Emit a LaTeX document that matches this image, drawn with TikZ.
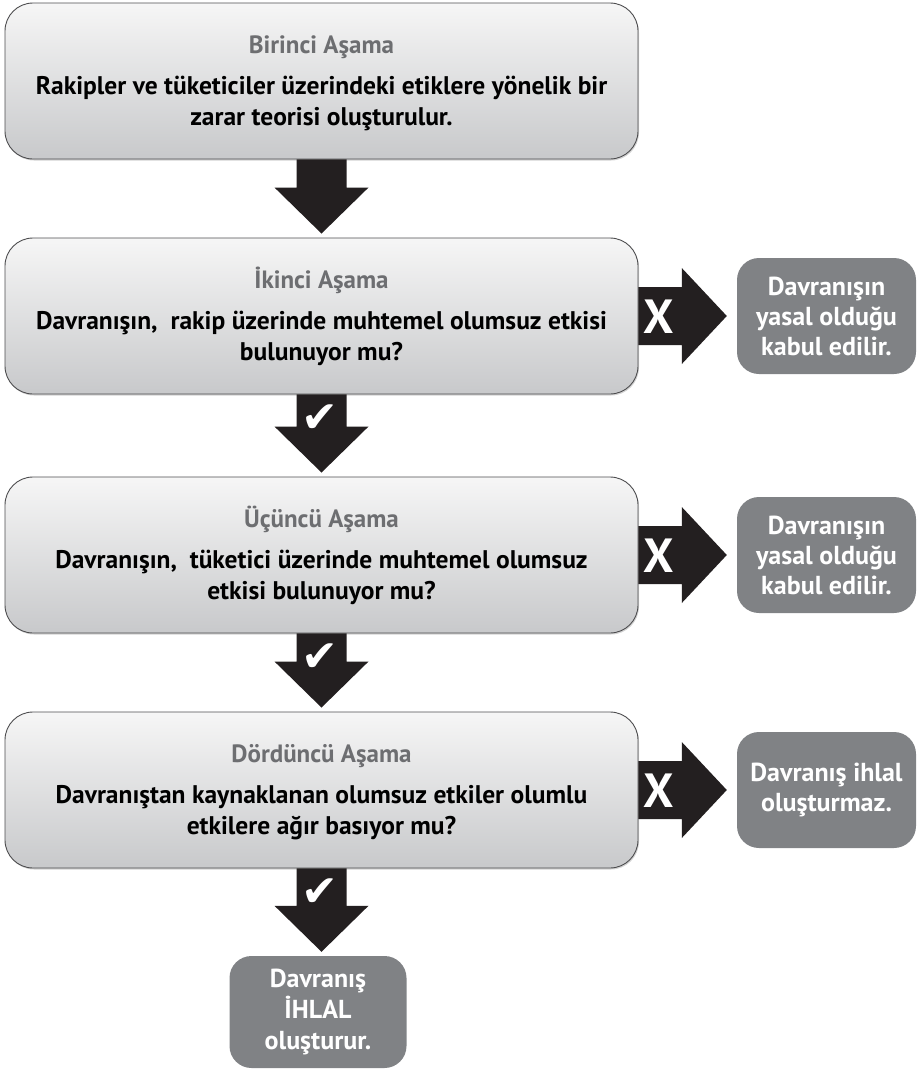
\documentclass[tikz,border=0pt]{standalone}
\usepackage{fontspec}
\setmainfont{PT Sans}
\newfontfamily\symfont{DejaVu Sans}
\usetikzlibrary{calc,shadows}
\definecolor{arrowblk}{HTML}{231F20}
\definecolor{sidegray}{HTML}{808285}
\definecolor{titlegray}{HTML}{6D6E71}
\definecolor{boxline}{HTML}{4D4D4F}
\definecolor{boxtop}{HTML}{F6F6F6}
\definecolor{boxbot}{HTML}{C8C9CB}
\tikzset{
  stagebox/.style={draw=boxline, line width=0.9pt, rounded corners=28pt, minimum width=633pt, minimum height=156pt, inner sep=0pt, top color=boxtop, bottom color=boxbot, drop shadow={opacity=0.35, shadow xshift=1pt, shadow yshift=-1.5pt}},
  sidebox/.style={fill=sidegray, rounded corners=22pt, minimum width=179pt, minimum height=116pt, inner sep=0pt, text=white, font=\fontsize{26}{30}\selectfont\bfseries, align=center},
  titletext/.style={text=titlegray, font=\fontsize{25}{28}\selectfont\bfseries, anchor=base, inner sep=0pt},
  bodytext/.style={text=black, font=\fontsize{25.5}{31.5}\selectfont\bfseries, align=center, inner sep=0pt},
  arrowfill/.style={fill=arrowblk},
  xmark/.style={text=white, font=\fontsize{48}{48}\selectfont\bfseries, inner sep=0pt},
  checkmark/.style={text=white, font=\symfont\fontsize{44}{44}\selectfont, inner sep=0pt}
}
\newcommand\downarr[2]{%
  \path let \p1=(#1.south), \p2=(#2.north) in
    [arrowfill] (\x1-25pt,\y1) -- (\x1+25pt,\y1) -- (\x1+25pt,\y2+50pt) -- (\x1+47pt,\y2+50pt)
    -- (\x1,\y2+4pt) -- (\x1-47pt,\y2+50pt) -- (\x1-25pt,\y2+50pt) -- cycle;}
\newcommand\rightarr[2]{%
  \path let \p1=(#1.east), \p2=(#2.west) in
    [arrowfill] (\x1,\y1+29pt) -- (\x2-55pt,\y1+29pt) -- (\x2-55pt,\y1+48pt) -- (\x2-10pt,\y1)
    -- (\x2-55pt,\y1-48pt) -- (\x2-55pt,\y1-29pt) -- (\x1,\y1-29pt) -- cycle;}
\begin{document}
\begin{tikzpicture}[x=1pt,y=-1pt]
\useasboundingbox (0,0) rectangle (918,1072);

% stage boxes
\node[stagebox] (b1) at (321.5,81) {};
\node[stagebox] (b2) at (321.5,316) {};
\node[stagebox] (b3) at (321.5,555) {};
\node[stagebox] (b4) at (321.5,790) {};

% side boxes
\node[sidebox] (s1) at (826.5,316) {Davranışın\\yasal olduğu\\kabul edilir.};
\node[sidebox] (s2) at (826.5,555) {Davranışın\\yasal olduğu\\kabul edilir.};
\node[sidebox] (s3) at (826.5,790) {Davranış ihlal\\oluşturmaz.};
\node[sidebox, minimum width=177pt, minimum height=112pt, font=\fontsize{26}{31}\selectfont\bfseries] (s4) at (318,1012) {Davranış\\İHLAL\\oluşturur.};

% texts
\node[titletext] (t1) at ($(b1.north)+(0,51)$) {Birinci Aşama};
\node[bodytext] (d1) at ($(b1.north)+(0,101)$) {Rakipler ve tüketiciler üzerindeki etiklere yönelik bir\\zarar teorisi oluşturulur.};
\node[titletext] (t2) at ($(b2.north)+(0,51)$) {İkinci Aşama};
\node[bodytext] (d2) at ($(b2.north)+(0,101)$) {Davranışın,\ \ rakip üzerinde muhtemel olumsuz etkisi\\bulunuyor mu?};
\node[titletext] (t3) at ($(b3.north)+(0,51)$) {Üçüncü Aşama};
\node[bodytext] (d3) at ($(b3.north)+(0,101)$) {Davranışın,\ \ tüketici üzerinde muhtemel olumsuz\\etkisi bulunuyor mu?};
\node[titletext] (t4) at ($(b4.north)+(0,51)$) {Dördüncü Aşama};
\node[bodytext] (d4) at ($(b4.north)+(0,101)$) {Davranıştan kaynaklanan olumsuz etkiler olumlu\\etkilere ağır basıyor mu?};

% down arrows
\downarr{b1}{b2}
\downarr{b2}{b3}
\downarr{b3}{b4}
\downarr{b4}{s4}

% right arrows
\rightarr{b2}{s1}
\rightarr{b3}{s2}
\rightarr{b4}{s3}

% marks
\node[xmark] (x1) at ($(b2.east)+(20,1)$) {X};
\node[xmark] (x2) at ($(b3.east)+(20,1)$) {X};
\node[xmark] (x3) at ($(b4.east)+(20,1)$) {X};
\node[checkmark] (c1) at ($(b2.south)+(-2,24)$) {✔};
\node[checkmark] (c2) at ($(b3.south)+(-2,24)$) {✔};
\node[checkmark] (c3) at ($(b4.south)+(-2,24)$) {✔};
\end{tikzpicture}
\end{document}
